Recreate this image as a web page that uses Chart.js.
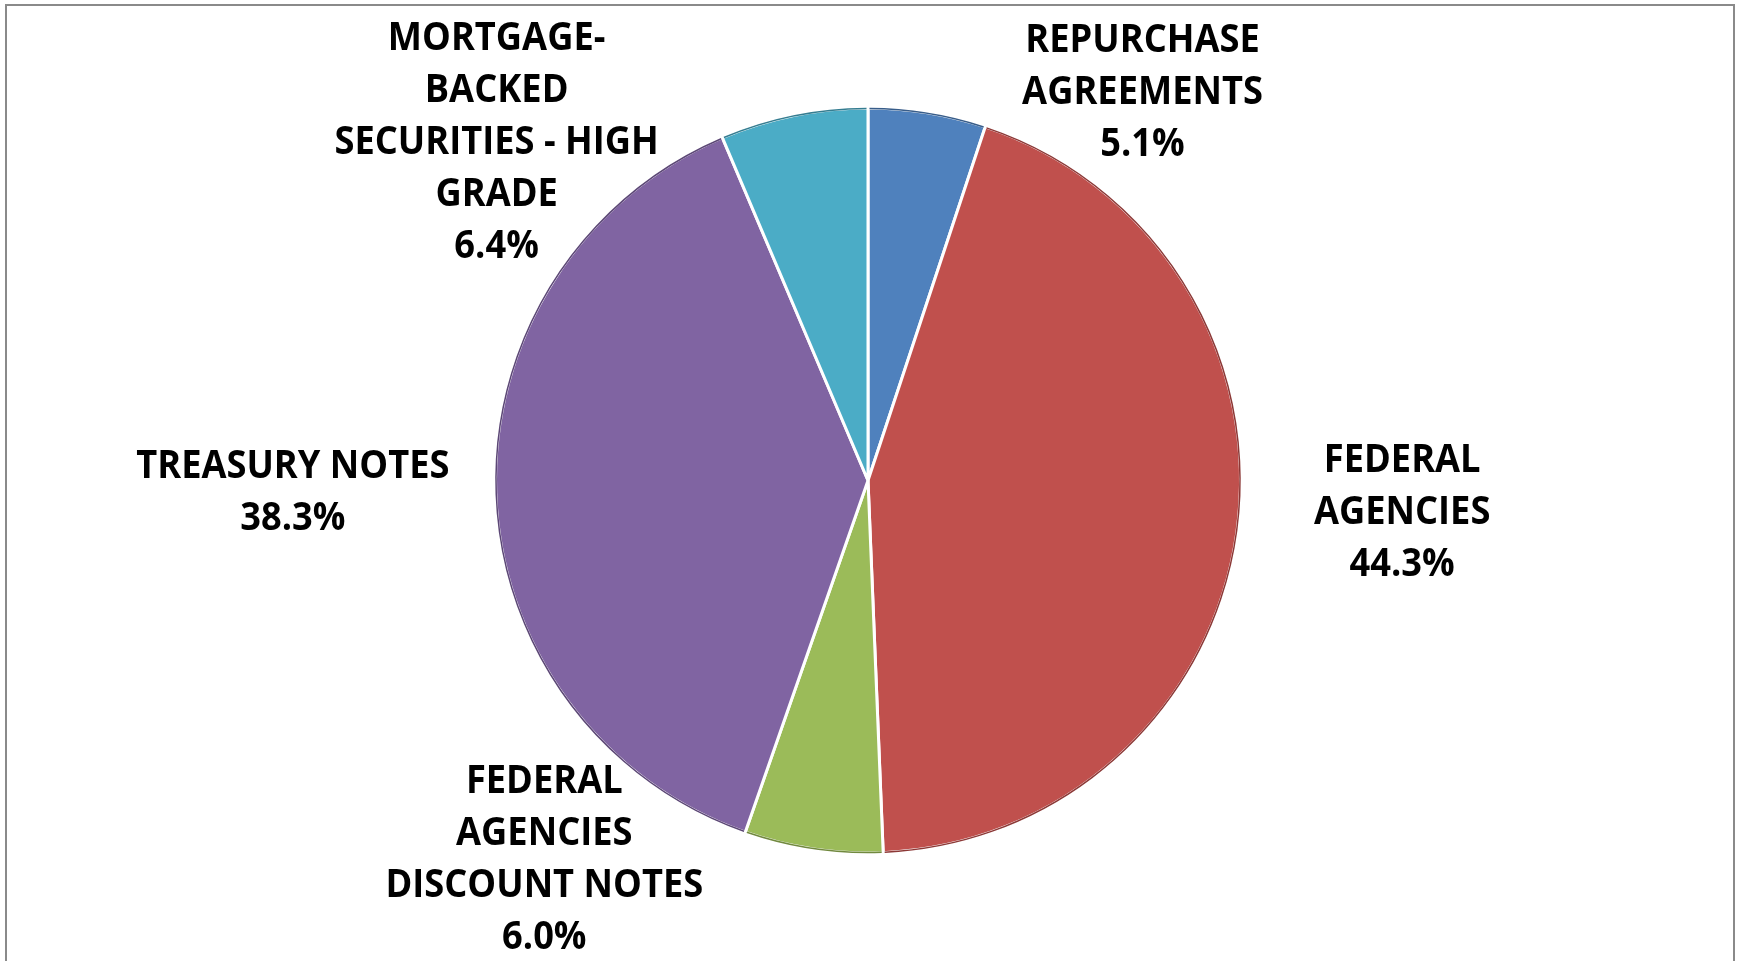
<!DOCTYPE html>
<html lang="en">
<head>
  <meta charset="UTF-8">
  <title>Portfolio Composition</title>
  <style>
    html, body { margin: 0; padding: 0; background: #fff; overflow: hidden; }
    #marco {
      position: absolute; left: 5px; top: 4px; width: 1730px; height: 1000px;
      border: 2px solid #8a8a8a; box-sizing: border-box;
    }
    #lienzo { position: absolute; left: 0; top: 0; }
  </style>
  <script src="https://cdn.jsdelivr.net/npm/chart.js"></script>
</head>
<body>
  <div id="marco"></div>
  <div style="position:absolute;left:0;top:0;width:1738px;height:961px;">
    <canvas id="lienzo" width="1738" height="961"></canvas>
  </div>
  <script>
    // datos
    const categorias = ['REPURCHASE AGREEMENTS', 'FEDERAL AGENCIES', 'FEDERAL AGENCIES DISCOUNT NOTES', 'TREASURY NOTES', 'MORTGAGE-BACKED SECURITIES - HIGH GRADE'];
    const porcentajes = [5.1, 44.3, 6.0, 38.3, 6.4];
    const lineasEtiqueta = [
      ['REPURCHASE', 'AGREEMENTS'],
      ['FEDERAL', 'AGENCIES'],
      ['FEDERAL', 'AGENCIES', 'DISCOUNT NOTES'],
      ['TREASURY NOTES'],
      ['MORTGAGE-', 'BACKED', 'SECURITIES - HIGH', 'GRADE']
    ];
    const colores = ['#4F81BD', '#C0504D', '#9BBB59', '#8064A2', '#4BACC6'];
    const contornos = ['#385D8A', '#8C3836', '#71893F', '#5C4776', '#357D91'];
    // label centre, relative to pie centre, in radii
    const posEtiqueta = [[0.737, -1.04], [1.434, 0.088], [-0.869, 1.018], [-1.544, 0.033], [-0.997, -0.907]];

    const etiquetas = {
      id: 'etiquetas',
      afterDatasetsDraw(chart) {
        const ctx = chart.ctx;
        const arcos = chart.getDatasetMeta(0).data;
        ctx.save();
        // outer rim
        arcos.forEach((a, i) => {
          ctx.beginPath();
          ctx.arc(a.x, a.y, a.outerRadius - 0.5, a.startAngle + 0.004, a.endAngle - 0.004);
          ctx.strokeStyle = contornos[i];
          ctx.lineWidth = 1.5;
          ctx.stroke();
        });
        ctx.fillStyle = '#000';
        ctx.textAlign = 'center';
        ctx.textBaseline = 'middle';
        ctx.font = 'bold 39px "Open Sans", "Noto Sans", sans-serif';
        const alto = 52;
        const compresion = 0.93;
        arcos.forEach((a, i) => {
          const lineas = lineasEtiqueta[i].concat([porcentajes[i].toFixed(1) + '%']);
          const cx = a.x + posEtiqueta[i][0] * a.outerRadius;
          const cy = a.y + posEtiqueta[i][1] * a.outerRadius;
          lineas.forEach((t, k) => {
            const y = cy + (k - (lineas.length - 1) / 2) * alto;
            ctx.save();
            ctx.translate(cx, y);
            ctx.scale(compresion, 1);
            ctx.fillText(t, 0, 0);
            ctx.restore();
          });
        });
        ctx.restore();
      }
    };

    new Chart(document.getElementById('lienzo'), {
      type: 'pie',
      data: {
        labels: categorias,
        datasets: [{
          data: porcentajes,
          backgroundColor: colores,
          borderColor: '#ffffff',
          borderWidth: 3
        }]
      },
      options: {
        responsive: false,
        animation: false,
        layout: { padding: { left: 494, right: 496, top: 106, bottom: 106 } },
        plugins: {
          legend: { display: false },
          tooltip: { enabled: false }
        }
      },
      plugins: [etiquetas]
    });
  </script>
</body>
</html>
